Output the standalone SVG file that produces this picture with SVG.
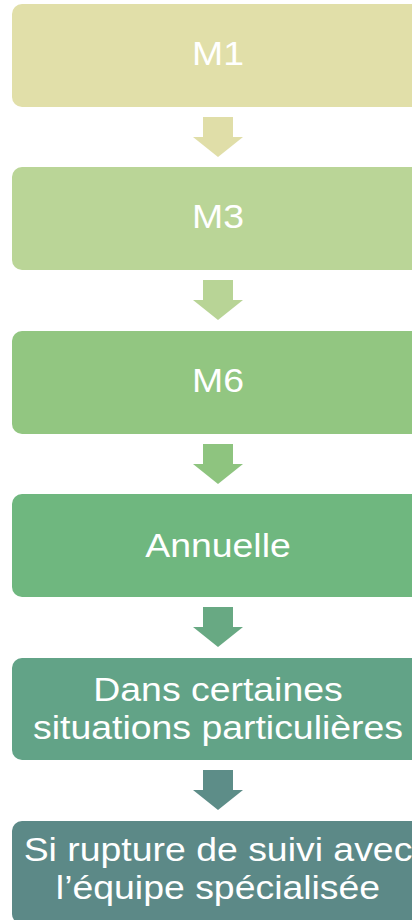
<svg xmlns="http://www.w3.org/2000/svg" width="412" height="920" viewBox="0 0 412 920">
<defs>
<style>
.box{stroke:none}
.t{font-family:"Liberation Sans",Arial,sans-serif;font-size:34px;fill:#ffffff;text-anchor:middle}
</style>
<path id="arr" d="M-15,0 H15 V20 H25 L0,40 L-25,20 H-15 Z"/>
</defs>
<rect width="412" height="920" fill="#ffffff"/>
<g id="connectors">
<use href="#arr" x="218" y="117" fill="#E0DEA8"/>
<use href="#arr" x="218" y="280" fill="#B8D496"/>
<use href="#arr" x="218" y="444" fill="#8EC47F"/>
<use href="#arr" x="218" y="607" fill="#68A983"/>
<use href="#arr" x="218" y="770" fill="#5D8D88"/>
</g>
<g id="n1">
<rect class="box" x="12" y="4" width="412" height="103" rx="10" fill="#E1DFA9"/>
<text class="t" transform="translate(218,65) scale(1.1,1)">M1</text>
</g>
<g id="n2">
<rect class="box" x="12" y="167" width="412" height="103" rx="10" fill="#BAD597"/>
<text class="t" transform="translate(218,228) scale(1.1,1)">M3</text>
</g>
<g id="n3">
<rect class="box" x="12" y="331" width="412" height="103" rx="10" fill="#92C681"/>
<text class="t" transform="translate(218,392) scale(1.1,1)">M6</text>
</g>
<g id="n4">
<rect class="box" x="12" y="494" width="412" height="103" rx="10" fill="#6FB77F"/>
<text class="t" transform="translate(218,557) scale(1.1,1)">Annuelle</text>
</g>
<g id="n5">
<rect class="box" x="12" y="658" width="412" height="102" rx="10" fill="#62A387"/>
<text class="t" transform="translate(218,701) scale(1.1,1)">Dans certaines</text>
<text class="t" transform="translate(218,739) scale(1.1,1)">situations particulières</text>
</g>
<g id="n6">
<rect class="box" x="12" y="821" width="412" height="103" rx="10" fill="#5C8987"/>
<text class="t" transform="translate(218,861) scale(1.1,1)">Si rupture de suivi avec</text>
<text class="t" transform="translate(218,899) scale(1.1,1)">l’équipe spécialisée</text>
</g>
</svg>
